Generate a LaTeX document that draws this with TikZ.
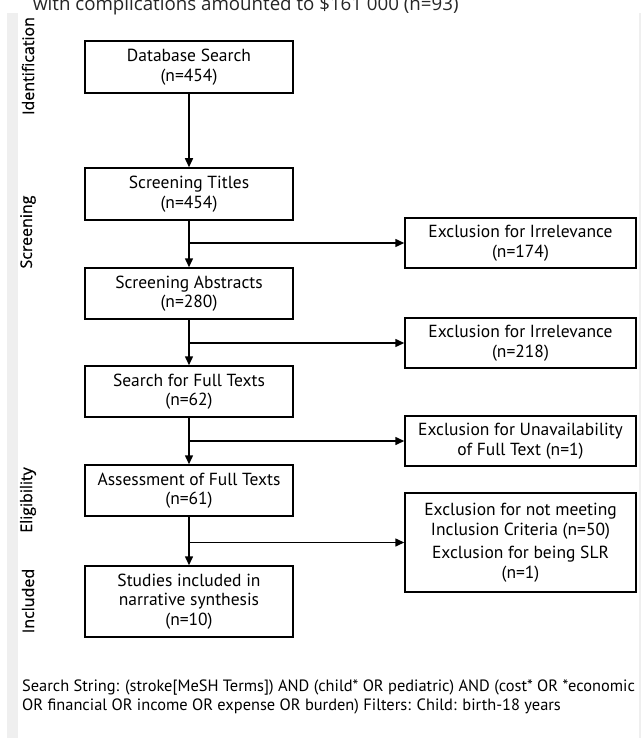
\documentclass[tikz,border=0pt]{standalone}
\usepackage{fontspec}
\setmainfont{PT Sans}
\newfontfamily\lblfont{Open Sans}[BoldFont={Open Sans},BoldFeatures={FakeBold=0.7}]
\usetikzlibrary{arrows.meta}
\definecolor{stripgray}{HTML}{EFEFEF}
\definecolor{toptext}{HTML}{262626}
\tikzset{
  box/.style={draw=black, line width=1.5pt, fill=white, align=center, inner sep=0pt,
    font=\fontsize{17.5}{19.5}\selectfont},
  leftbox/.style={box, minimum width=208pt},
  exbox/.style={box, minimum width=231pt},
  arr/.style={line width=1.5pt, -{Triangle[width=8pt,length=9pt]}},
  phase/.style={rotate=90, font=\lblfont\bfseries\fontsize{16}{18}\selectfont, inner sep=0pt}
}
\begin{document}
\begin{tikzpicture}[x=1pt,y=-1pt]
\useasboundingbox (0,0) rectangle (641,738);
\fill[stripgray] (7,13) rectangle (18,738);
\fill[stripgray] (639,13) rectangle (641,738);
\node[anchor=base west, inner sep=0pt, text=toptext, font=\lblfont\fontsize{18.7}{22}\selectfont] (top) at (33,10.5) {with complications amounted to \$161 000 (n=93)};

\node[phase] (pid) at (28,66) {Identification};
\node[phase] (psc) at (28,232) {Screening};
\node[phase] (pel) at (28,500) {Eligibility};
\node[phase] (pin) at (28,601) {Included};

\node[leftbox, minimum height=52pt] (b1) at (189,67) {Database Search\\(n=454)};
\node[leftbox, minimum height=52pt] (b2) at (189,194) {Screening Titles\\(n=454)};
\node[leftbox, minimum height=51pt] (b3) at (189,293.5) {Screening Abstracts\\(n=280)};
\node[leftbox, minimum height=51pt] (b4) at (189,391.5) {Search for Full Texts\\(n=62)};
\node[leftbox, minimum height=51pt] (b5) at (189,490.5) {Assessment of Full Texts\\(n=61)};
\node[leftbox, minimum height=71pt] (b6) at (189,601.5) {Studies included in\\narrative synthesis\\(n=10)};

\node[exbox, minimum height=50pt] (e1) at (520.5,243) {Exclusion for Irrelevance\\(n=174)};
\node[exbox, minimum height=50pt] (e2) at (520.5,343) {Exclusion for Irrelevance\\(n=218)};
\node[exbox, minimum height=50pt] (e3) at (520.5,441) {Exclusion for Unavailability\\of Full Text (n=1)};
\node[exbox, minimum height=99pt] (e4) at (520.5,542.5) {Exclusion for not meeting\\Inclusion Criteria (n=50)\\[4pt]Exclusion for being SLR\\(n=1)};

\draw[arr] (b1.south) -- (b2.north);
\draw[arr] (b2.south) -- (b3.north);
\draw[arr] (b3.south) -- (b4.north);
\draw[arr] (b4.south) -- (b5.north);
\draw[arr] (b5.south) -- (b6.north);

\coordinate (j1) at (b2.south |- e1.west);
\coordinate (j2) at (b3.south |- e2.west);
\coordinate (j3) at (b4.south |- e3.west);
\coordinate (j4) at (b5.south |- e4.west);
\draw[arr] (j1) -- (e1.west);
\draw[arr] (j2) -- (e2.west);
\draw[arr] (j3) -- (e3.west);
\draw[arr] (j4) -- (e4.west);

\node[anchor=north west, inner sep=0pt, align=left, font=\fontsize{16.4}{19}\selectfont] (ss) at (22,680)
  {Search String: (stroke[MeSH Terms]) AND (child* OR pediatric) AND (cost* OR *economic\\OR financial OR income OR expense OR burden) Filters: Child: birth-18 years};
\end{tikzpicture}
\end{document}
